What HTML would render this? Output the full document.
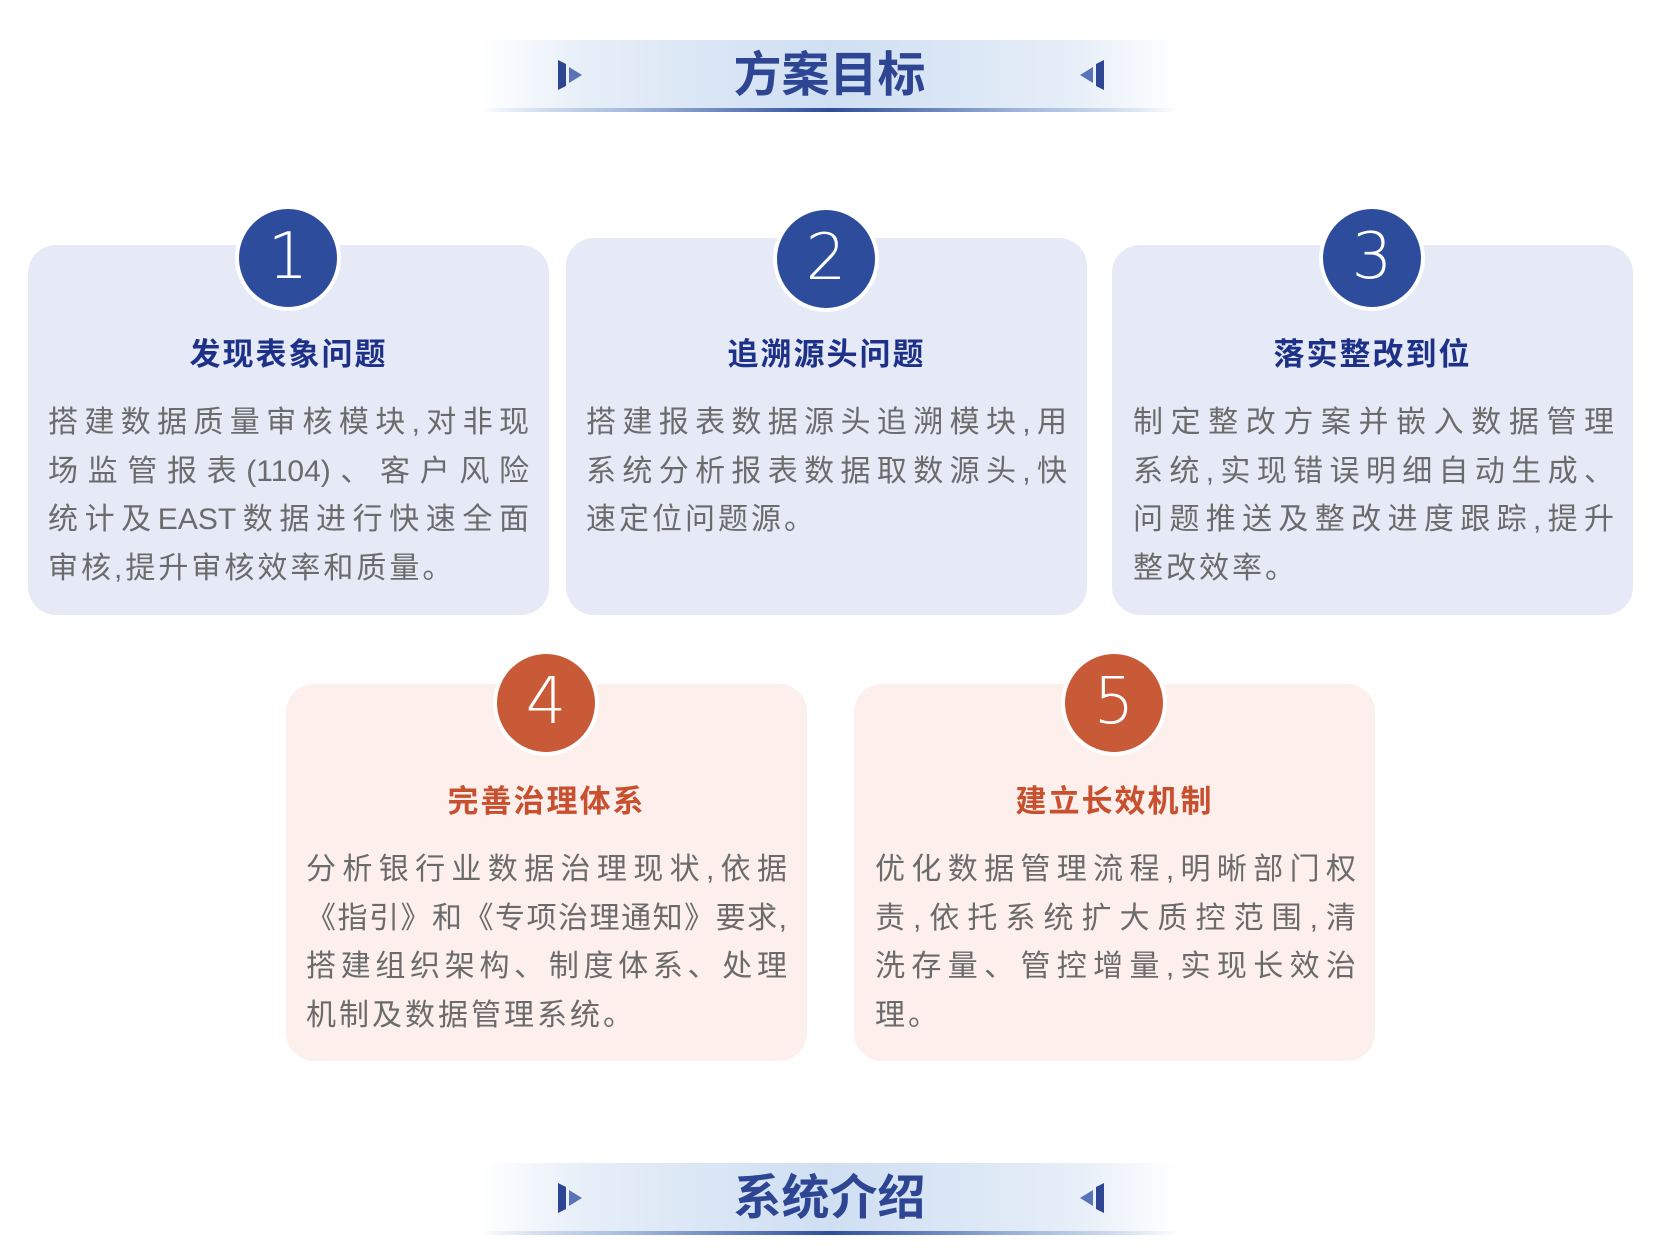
<!DOCTYPE html>
<html><head><meta charset="utf-8"><style>
*{margin:0;padding:0;box-sizing:border-box}
body{width:1654px;height:1250px;background:#fff;position:relative;overflow:hidden;font-family:"Liberation Sans","Noto Sans CJK SC",sans-serif}
.hdr{position:absolute;left:481px;width:697px;height:72px;background:linear-gradient(90deg,rgba(220,232,246,0) 0%,#e6eef8 15%,#cfdff2 50%,#e6eef8 85%,rgba(220,232,246,0) 100%)}
.hdr .ul{position:absolute;left:0;right:0;bottom:0;height:4px;background:linear-gradient(90deg,rgba(180,200,230,0),#a9bfe0 20%,#2d4c9c 50%,#a9bfe0 80%,rgba(180,200,230,0))}
.hdr .t{position:absolute;left:0;right:0;top:8px;text-align:center;font-size:48px;color:#2d4592;font-weight:bold;line-height:56px}
.hdr svg{position:absolute;top:20px}
.card{position:absolute;border-radius:28px;width:521px}
.b{background:#e6eaf7}.o{background:#fcefec}
.circ{position:absolute;width:106px;height:106px;border-radius:50%;border:4px solid #fff;color:#fff;font-size:64px;text-align:center;line-height:96px;font-family:"DejaVu Sans","Liberation Sans",sans-serif;font-weight:300}
.cb{background:#2d4c9c}.co{background:#c85a37}
.ti{position:absolute;font-size:31px;font-weight:bold;text-align:center;width:521px;line-height:40px;letter-spacing:2px}
.tb{color:#1d3189}.to{color:#c8502f}
.tx{position:absolute;width:481px;font-size:30px;color:#6b6b6b;line-height:48.5px}
.tx div{text-align:justify;text-align-last:justify;height:48.5px;white-space:nowrap}
.tx div.l{text-align-last:left;letter-spacing:3px}
</style></head><body>

<div class="hdr" style="top:40px"><div class="ul"></div><div class="t">方案目标</div>
<svg style="left:77px" width="26" height="30"><polygon points="0,0 8,4 8,26 0,30" fill="#2d4592"/><polygon points="11,7 24,15 11,23" fill="#5a72b8"/></svg>
<svg style="left:597px" width="26" height="30"><polygon points="26,0 18,4 18,26 26,30" fill="#2d4592"/><polygon points="15,7 2,15 15,23" fill="#5a72b8"/></svg>
</div>

<div class="card b" style="left:28px;top:245px;height:370px"></div>
<div class="card b" style="left:566px;top:238px;height:377px"></div>
<div class="card b" style="left:1112px;top:245px;height:370px"></div>
<div class="card o" style="left:286px;top:684px;height:377px"></div>
<div class="card o" style="left:854px;top:684px;height:377px"></div>

<div class="circ cb" style="left:235px;top:205px">1</div>
<div class="circ cb" style="left:773px;top:206px">2</div>
<div class="circ cb" style="left:1319px;top:205px">3</div>
<div class="circ co" style="left:493px;top:650px">4</div>
<div class="circ co" style="left:1061px;top:650px">5</div>

<div class="ti tb" style="left:28px;top:335px">发现表象问题</div>
<div class="ti tb" style="left:566px;top:335px">追溯源头问题</div>
<div class="ti tb" style="left:1112px;top:335px">落实整改到位</div>
<div class="ti to" style="left:286px;top:782px">完善治理体系</div>
<div class="ti to" style="left:854px;top:782px">建立长效机制</div>

<div class="tx" style="left:48px;top:399px">
<div>搭建数据质量审核模块,对非现</div>
<div>场监管报表(1104)、客户风险</div>
<div>统计及EAST数据进行快速全面</div>
<div class="l">审核,提升审核效率和质量。</div>
</div>
<div class="tx" style="left:586px;top:399px">
<div>搭建报表数据源头追溯模块,用</div>
<div>系统分析报表数据取数源头,快</div>
<div class="l">速定位问题源。</div>
</div>
<div class="tx" style="left:1133px;top:399px">
<div>制定整改方案并嵌入数据管理</div>
<div>系统,实现错误明细自动生成、</div>
<div>问题推送及整改进度跟踪,提升</div>
<div class="l">整改效率。</div>
</div>
<div class="tx" style="left:306px;top:846px">
<div>分析银行业数据治理现状,依据</div>
<div>《指引》和《专项治理通知》要求,</div>
<div>搭建组织架构、制度体系、处理</div>
<div class="l">机制及数据管理系统。</div>
</div>
<div class="tx" style="left:875px;top:846px">
<div>优化数据管理流程,明晰部门权</div>
<div>责,依托系统扩大质控范围,清</div>
<div>洗存量、管控增量,实现长效治</div>
<div class="l">理。</div>
</div>

<div class="hdr" style="top:1163px"><div class="ul"></div><div class="t">系统介绍</div>
<svg style="left:77px" width="26" height="30"><polygon points="0,0 8,4 8,26 0,30" fill="#2d4592"/><polygon points="11,7 24,15 11,23" fill="#5a72b8"/></svg>
<svg style="left:597px" width="26" height="30"><polygon points="26,0 18,4 18,26 26,30" fill="#2d4592"/><polygon points="15,7 2,15 15,23" fill="#5a72b8"/></svg>
</div>
</body></html>
